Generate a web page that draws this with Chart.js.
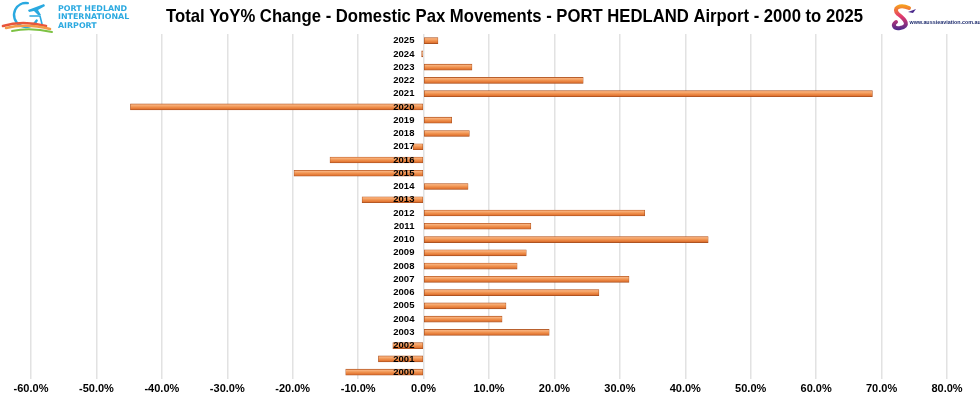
<!DOCTYPE html>
<html>
<head>
<meta charset="utf-8">
<script src="https://cdn.jsdelivr.net/npm/chart.js@4.4.1/dist/chart.umd.min.js"></script>
<style>
  html, body { margin: 0; padding: 0; background: #fff; }
  #wrap { width: 980px; height: 403px; position: relative; }
</style>
</head>
<body>
<div id="wrap"><canvas id="yoyChart"></canvas></div>
<script>
// Data
const years = ['2000', '2001', '2002', '2003', '2004', '2005', '2006', '2007', '2008', '2009',
    '2010', '2011', '2012', '2013', '2014', '2015', '2016', '2017', '2018', '2019',
    '2020', '2021', '2022', '2023', '2024', '2025'];
const yoyChange = [-11.9, -6.9, -4.7, 19.2, 12.0, 12.6, 26.8, 31.4, 14.3, 15.7,
    43.5, 16.4, 33.8, -9.4, 6.8, -19.8, -14.3, -1.6, 7.0, 4.3,
    -44.8, 68.6, 24.4, 7.4, -0.3, 2.2];
const xMin = -60;
const xMax = 80;
const xStep = 10;
const chartTitle = 'Total YoY% Change - Domestic Pax Movements - PORT HEDLAND Airport - 2000 to 2025';
const airportLogoLines = ['PORT HEDLAND', 'INTERNATIONAL', 'AIRPORT'];
const siteUrl = 'www.aussieaviation.com.au';

// Excel-style shaded bars: vertical gradient per bar
const barShading = {
    id: 'barShading',
    beforeDatasetsDraw(chart) {
        const ctx = chart.ctx;
        chart.getDatasetMeta(0).data.forEach(bar => {
            const half = bar.height / 2;
            const g = ctx.createLinearGradient(0, bar.y - half, 0, bar.y + half);
            g.addColorStop(0, '#E98F56');
            g.addColorStop(0.2, '#F8B07A');
            g.addColorStop(0.5, '#F09350');
            g.addColorStop(0.8, '#E47835');
            g.addColorStop(1, '#B95A26');
            bar.options.backgroundColor = g;
        });
    }
};

// Title text and the two logos
const headerDecor = {
    id: 'headerDecor',
    afterDraw(chart) {
        const ctx = chart.ctx;
        ctx.save();

        // title, condensed to the reference width
        ctx.font = 'bold 18.5px "Liberation Sans", Arial, sans-serif';
        ctx.fillStyle = '#000';
        ctx.textBaseline = 'middle';
        ctx.textAlign = 'center';
        const w = ctx.measureText(chartTitle).width;
        ctx.save();
        ctx.translate(514.5, 16.5);
        ctx.scale(697 / w, 1);
        ctx.fillText(chartTitle, 0, 0);
        ctx.restore();

        // left logo: ring + plane + swooshes
        ctx.lineCap = 'round';
        ctx.strokeStyle = '#2AA9E0';
        ctx.lineWidth = 2.4;
        ctx.beginPath();
        ctx.arc(26, 15, 12, Math.PI * 0.15, Math.PI * 1.55);
        ctx.stroke();
        ctx.fillStyle = '#2AA9E0';
        ctx.beginPath();
        ctx.moveTo(28, 10); ctx.lineTo(44, 4); ctx.lineTo(45, 6);
        ctx.lineTo(38, 10); ctx.lineTo(41, 15); ctx.lineTo(38, 15);
        ctx.lineTo(34, 11); ctx.lineTo(29, 12); ctx.closePath();
        ctx.fill();
        ctx.lineWidth = 1.6;
        ctx.beginPath();
        ctx.moveTo(30, 16); ctx.lineTo(40, 16); ctx.lineTo(42, 24);
        ctx.stroke();

        ctx.lineWidth = 2.6;
        ctx.strokeStyle = '#E8553B';
        ctx.beginPath();
        ctx.moveTo(3, 26); ctx.quadraticCurveTo(22, 20, 46, 26);
        ctx.stroke();
        ctx.strokeStyle = '#F29A4A';
        ctx.beginPath();
        ctx.moveTo(6, 28); ctx.quadraticCurveTo(26, 23, 50, 29);
        ctx.stroke();
        ctx.strokeStyle = '#7DC243';
        ctx.lineWidth = 2;
        ctx.beginPath();
        ctx.moveTo(12, 31); ctx.quadraticCurveTo(30, 27, 52, 32);
        ctx.stroke();

        ctx.textAlign = 'left';
        ctx.textBaseline = 'alphabetic';
        ctx.fillStyle = '#2AA9E0';
        ctx.font = 'bold 7.9px "DejaVu Sans", sans-serif';
        airportLogoLines.forEach((line, i) => {
            ctx.fillText(line, 58, 10.5 + i * 8.6);
        });

        // right logo: ribbon "S" + url
        const sg = ctx.createLinearGradient(0, 5, 0, 30);
        sg.addColorStop(0, '#F7A11A');
        sg.addColorStop(0.45, '#E43A6E');
        sg.addColorStop(1, '#4B2A8C');
        ctx.strokeStyle = sg;
        ctx.lineWidth = 4;
        ctx.beginPath();
        ctx.moveTo(909, 8);
        ctx.bezierCurveTo(900, 4, 892, 8, 898, 14);
        ctx.bezierCurveTo(906, 20, 910, 26, 900, 28);
        ctx.bezierCurveTo(894, 29, 892, 25, 896, 22);
        ctx.stroke();
        ctx.fillStyle = '#4B2A8C';
        ctx.beginPath();
        ctx.moveTo(908, 12); ctx.lineTo(916, 9); ctx.lineTo(913, 13); ctx.closePath();
        ctx.fill();
        ctx.fillStyle = '#1F2D6E';
        ctx.font = 'bold 5.4px "Liberation Sans", Arial, sans-serif';
        ctx.fillText(siteUrl, 909.5, 24);

        ctx.restore();
    }
};

new Chart(document.getElementById('yoyChart'), {
    type: 'bar',
    data: {
        labels: years,
        datasets: [{
            label: 'YoY % change',
            data: yoyChange,
            // scriptable so every bar gets its own options object (shaded per bar)
            backgroundColor: () => '#EE8A4E',
            borderColor: '#A9501F',
            borderWidth: 0.6,
            borderSkipped: false,
            barThickness: 6
        }]
    },
    options: {
        indexAxis: 'y',
        responsive: true,
        maintainAspectRatio: false,
        animation: false,
        layout: {
            padding: { top: 34, bottom: 3, left: 31, right: 33 }
        },
        plugins: {
            legend: { display: false },
            title: { display: false },
            tooltip: { enabled: false }
        },
        scales: {
            x: {
                type: 'linear',
                min: xMin,
                max: xMax,
                ticks: {
                    stepSize: xStep,
                    padding: 4,
                    color: '#000',
                    font: { family: '"Liberation Sans", Arial, sans-serif', size: 11, weight: 'bold' },
                    callback: v => v.toFixed(1) + '%'
                },
                grid: {
                    color: '#E2E2E2',
                    lineWidth: 1.5,
                    drawTicks: false
                },
                border: { display: false }
            },
            y: {
                type: 'category',
                reverse: true,
                // labels sit just left of the 0% line
                position: { x: -1.4 },
                grid: { display: false },
                border: { display: false },
                ticks: {
                    z: 1,
                    color: '#000',
                    autoSkip: false,
                    font: { family: '"Liberation Sans", Arial, sans-serif', size: 9.5, weight: 'bold' }
                }
            }
        }
    },
    plugins: [barShading, headerDecor]
});
</script>
</body>
</html>
